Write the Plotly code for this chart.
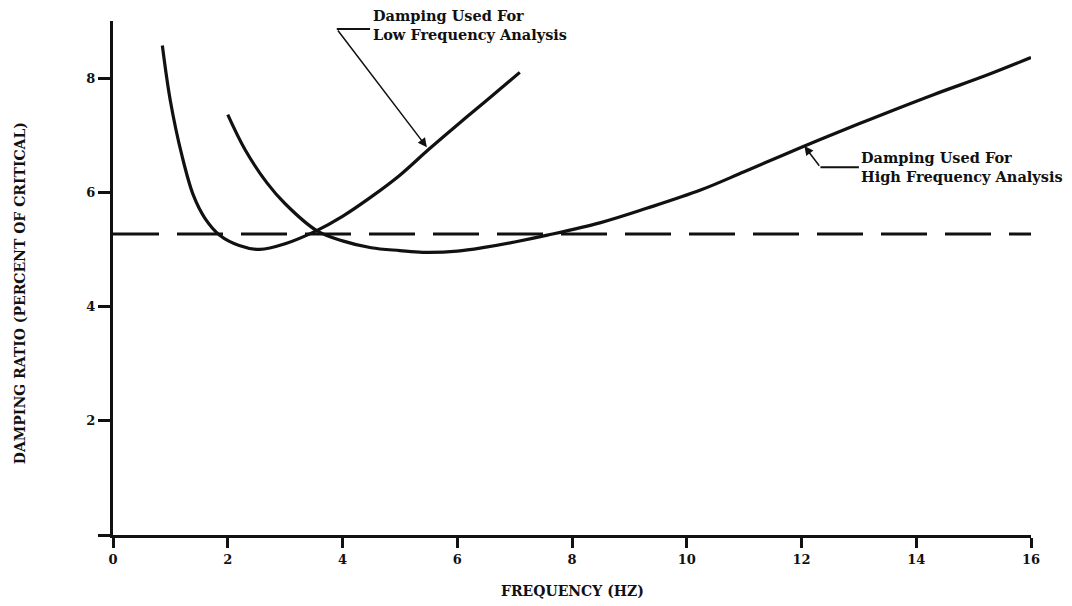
import plotly.graph_objects as go

# Low-frequency damping curve
low_freq = [0.86, 1.0, 1.2, 1.4, 1.6, 1.86, 2.2, 2.56, 3.0, 3.55, 4.0, 4.5, 5.0, 5.5, 6.0, 6.5, 7.09]
low_damp = [8.57, 7.6, 6.65, 5.95, 5.55, 5.25, 5.07, 5.0, 5.1, 5.33, 5.58, 5.92, 6.3, 6.75, 7.18, 7.6, 8.1]

# High-frequency damping curve
high_freq = [2.0, 2.3, 2.68, 3.0, 3.55, 4.0, 4.5, 5.0, 5.4, 6.0, 6.5, 7.0, 7.57, 8.5, 9.3, 10.24, 11.0, 12.0, 13.0, 14.3, 15.2, 16.0]
high_damp = [7.36, 6.75, 6.17, 5.8, 5.33, 5.15, 5.03, 4.98, 4.95, 4.97, 5.04, 5.13, 5.25, 5.47, 5.72, 6.04, 6.36, 6.79, 7.2, 7.71, 8.04, 8.36]

# Constant reference damping (dashed)
const_freq = [0.0, 16.0]
const_damp = [5.27, 5.27]

x_ticks = [0, 2, 4, 6, 8, 10, 12, 14, 16]
y_ticks = [0, 2, 4, 6, 8]
y_ticktext = ["", "2", "4", "6", "8"]

FONT = "DejaVu Serif"
INK = "#111111"

fig = go.Figure()
fig.add_trace(go.Scatter(x=const_freq, y=const_damp, mode="lines",
                         line=dict(color=INK, width=3, dash="46px,18px")))
fig.add_trace(go.Scatter(x=low_freq, y=low_damp, mode="lines", line_shape="spline",
                         line=dict(color=INK, width=3.2)))
fig.add_trace(go.Scatter(x=high_freq, y=high_damp, mode="lines", line_shape="spline",
                         line=dict(color=INK, width=3.2)))

# Leader for low-frequency label
fig.add_annotation(x=5.47, y=6.79, ax=3.9, ay=8.86, xref="x", yref="y", axref="x", ayref="y",
                   text="", showarrow=True, arrowhead=2, arrowsize=1.2, arrowwidth=1.5, arrowcolor=INK)
fig.add_shape(type="line", x0=3.9, x1=4.48, y0=8.86, y1=8.86, xref="x", yref="y",
              line=dict(color=INK, width=2))
fig.add_annotation(x=4.5, y=8.93, xref="x", yref="y", xanchor="left", yanchor="middle",
                   text="Damping Used For<br>Low Frequency Analysis", showarrow=False, align="left",
                   font=dict(family=FONT, size=14.5, color=INK, weight="bold"))

# Leader for high-frequency label
fig.add_annotation(x=12.05, y=6.81, ax=12.33, ay=6.44, xref="x", yref="y", axref="x", ayref="y",
                   text="", showarrow=True, arrowhead=2, arrowsize=1.2, arrowwidth=1.5, arrowcolor=INK)
fig.add_shape(type="line", x0=12.33, x1=13.0, y0=6.44, y1=6.44, xref="x", yref="y",
              line=dict(color=INK, width=2))
fig.add_annotation(x=13.0, y=6.44, xref="x", yref="y", xanchor="left", yanchor="middle",
                   text="Damping Used For<br>High Frequency Analysis", showarrow=False, align="left",
                   font=dict(family=FONT, size=14.5, color=INK, weight="bold"))

# Axis titles
fig.add_annotation(x=0.5, y=-0.108, xref="paper", yref="paper", yanchor="middle",
                   text="FREQUENCY (HZ)", showarrow=False,
                   font=dict(family=FONT, size=14, color=INK, weight="bold"))
fig.add_annotation(x=-0.1005, y=0.47, xref="paper", yref="paper", xanchor="center", yanchor="middle",
                   text="DAMPING RATIO (PERCENT OF CRITICAL)", showarrow=False, textangle=-90,
                   font=dict(family=FONT, size=14, color=INK, weight="bold"))

fig.update_layout(
    width=1072, height=606,
    margin=dict(l=105, r=49, t=13, b=79),
    paper_bgcolor="white", plot_bgcolor="white",
    showlegend=False,
    xaxis=dict(range=[0, 16], tickvals=x_ticks, showgrid=False, zeroline=False,
               showline=True, linecolor=INK, linewidth=3,
               ticks="outside", ticklen=10, tickwidth=3, tickcolor=INK,
               tickfont=dict(family=FONT, size=13, color=INK, weight="bold")),
    yaxis=dict(range=[0, 9.0], tickvals=y_ticks, ticktext=y_ticktext, showgrid=False, zeroline=False,
               showline=True, linecolor=INK, linewidth=3,
               ticks="outside", ticklen=12, tickwidth=3, tickcolor=INK,
               tickfont=dict(family=FONT, size=13, color=INK, weight="bold")),
)

fig.write_html("out.html")
